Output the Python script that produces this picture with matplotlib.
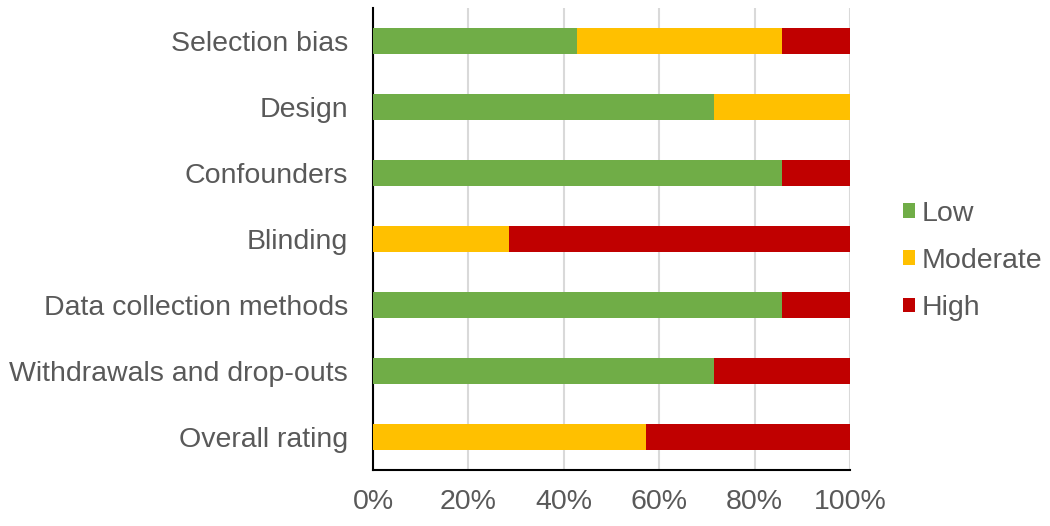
import matplotlib
matplotlib.use("Agg")
import matplotlib.pyplot as plt
from matplotlib.patches import Patch
import numpy as np

categories = ["Selection bias", "Design", "Confounders", "Blinding",
              "Data collection methods", "Withdrawals and drop-outs", "Overall rating"]
low = [3/7, 5/7, 6/7, 0, 6/7, 5/7, 0]
moderate = [3/7, 2/7, 0, 2/7, 0, 0, 4/7]
high = [1/7, 0, 1/7, 5/7, 1/7, 2/7, 3/7]
series_names = ["Low", "Moderate", "High"]
colors = ["#70AD47", "#FFC000", "#C00000"]
xticks = [0, 0.2, 0.4, 0.6, 0.8, 1.0]
xticklabels = ["0%", "20%", "40%", "60%", "80%", "100%"]

plt.rcParams['font.family'] = ['Liberation Sans', 'DejaVu Sans']
text_color = "#595959"
fs = 20.5

fig = plt.figure(figsize=(10.5, 5.26), dpi=100)
ax = fig.add_axes([373/1050, 1-470/526, (850-373)/1050, (470-8)/526])

y = np.arange(len(categories))
left = np.zeros(len(categories))
for vals, c in zip([low, moderate, high], colors):
    ax.barh(y, vals, left=left, height=0.4, color=c, zorder=3)
    left += np.array(vals)

ax.set_ylim(len(categories) - 0.5, -0.5)
ax.set_xlim(0, 1)
ax.set_yticks(y)
ax.set_yticklabels(categories, fontsize=fs, color=text_color)
ax.set_xticks(xticks)
ax.set_xticklabels(xticklabels, fontsize=fs, color=text_color)
ax.tick_params(axis='both', length=0)
ax.tick_params(axis='x', pad=14)
ax.tick_params(axis='y', pad=18)
ax.xaxis.grid(True, color="#D9D9D9", linewidth=1.5, zorder=0)
ax.spines['top'].set_visible(False)
ax.spines['right'].set_visible(False)
ax.spines['left'].set_color('black')
ax.spines['bottom'].set_color('black')
ax.spines['left'].set_linewidth(1.5)
ax.spines['bottom'].set_linewidth(1.5)

handles = [Patch(facecolor=c, label=n) for n, c in zip(series_names, colors)]
leg = fig.legend(handles=handles, loc='center left', bbox_to_anchor=(903/1050, 1-261/526),
                 frameon=False, fontsize=fs, handlelength=0.42, handleheight=0.42,
                 handletextpad=0.25, labelspacing=0.74, borderpad=0, borderaxespad=0)
for t in leg.get_texts():
    t.set_color(text_color)

fig.savefig("out.png", dpi=100)
